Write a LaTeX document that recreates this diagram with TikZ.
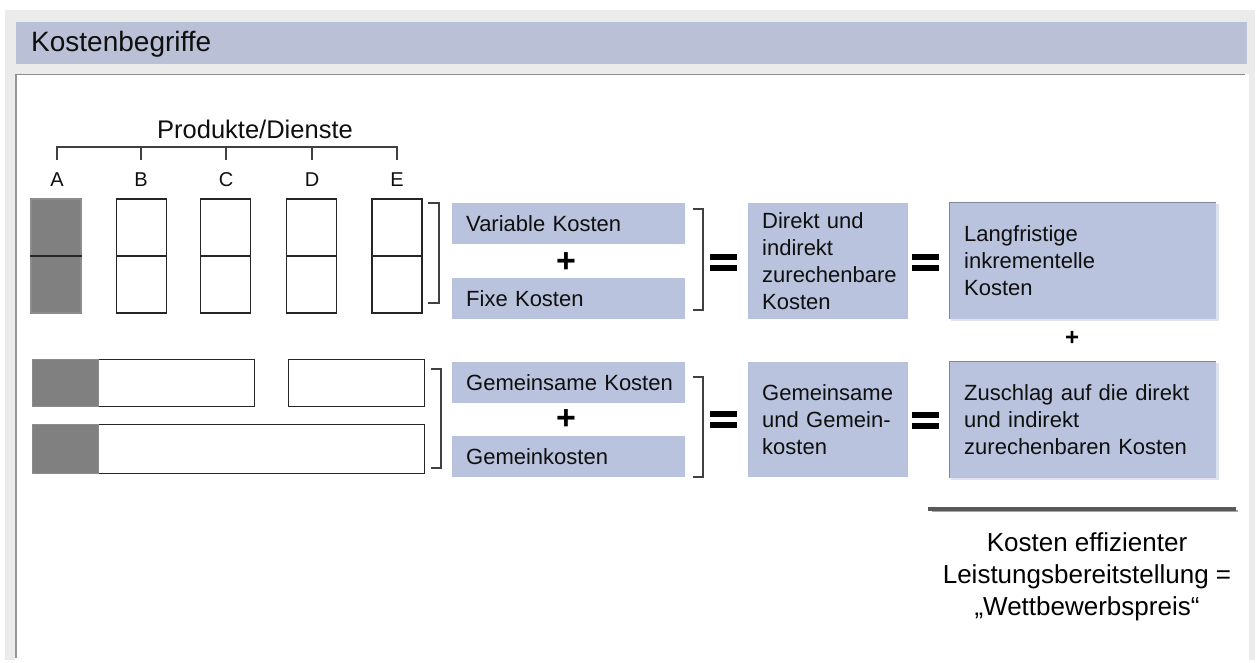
\documentclass[tikz,border=0pt]{standalone}
\usepackage{fontspec}
\usetikzlibrary{calc}
\setmainfont{Liberation Sans}
\definecolor{bggray}{RGB}{235,235,235}
\definecolor{titleblue}{RGB}{186,192,214}
\definecolor{boxblue}{RGB}{185,195,221}
\definecolor{framegray}{RGB}{150,150,150}
\definecolor{boxedge}{RGB}{128,136,152}
\definecolor{shadeblue}{RGB}{222,226,240}
\definecolor{darkfill}{RGB}{128,128,128}
\definecolor{txt}{RGB}{15,15,15}
\tikzset{
  body/.style={font=\fontsize{22}{27}\selectfont, text=txt},
  bluebox/.style={fill=boxblue, draw=none, anchor=north west, inner xsep=14pt, inner ysep=0pt, align=left, body},
  prodbox/.style={draw=black!85, line width=1.3pt, fill=white, minimum width=50pt, minimum height=114pt, inner sep=0pt},
  graybox/.style={prodbox, fill=darkfill, draw=black!45},
  barbox/.style={draw=black!85, line width=1.3pt, fill=white, anchor=north west, inner sep=0pt},
  grayseg/.style={fill=darkfill, draw=black!45, line width=1.3pt, anchor=north west, inner sep=0pt},
  letter/.style={font=\fontsize{20}{22}\selectfont, text=txt},
  brack/.style={draw=black!75, line width=1.3pt},
  plus/.style={font=\bfseries\fontsize{34}{36}\selectfont, inner sep=0pt},
  eqbar/.style={fill=black}
}
\newcommand\eqmark[2]{%
  \fill[eqbar] (#1,#2) rectangle ++(27,6);
  \fill[eqbar] (#1,#2+11) rectangle ++(27,6);}
\begin{document}
\begin{tikzpicture}[x=1pt,y=-1pt]
\useasboundingbox (0,0) rectangle (1258,662);
% frame
\fill[bggray] (5,10) rectangle (1255,660);
\node[fill=titleblue, anchor=north west, minimum width=1231pt, minimum height=42pt, inner sep=0pt] (titlebar) at (16,22) {};
\node[anchor=west, font=\fontsize{28}{32}\selectfont, text=txt, inner sep=0pt] (title) at (31,44) {Kostenbegriffe};
\fill[white] (15,74) rectangle (1249,660);
\draw[framegray, line width=2.2pt] (16,74) -- (16,658);
\draw[black!45, line width=1pt] (15,74.5) -- (1245,74.5);

% product header
\node[font=\fontsize{25.5}{28}\selectfont, text=txt] (prod) at (255,129) {Produkte/Dienste};
\draw[brack] (57,160) -- (57,147) -- (397,147) -- (397,160);
\foreach \x in {141,226,312} \draw[brack] (\x,147) -- (\x,160);
\node[letter] (lA) at (57,180) {A};
\node[letter] (lB) at (141,180) {B};
\node[letter] (lC) at (226,180) {C};
\node[letter] (lD) at (312,180) {D};
\node[letter] (lE) at (397,180) {E};

% product boxes
\node[graybox] (A) at (56,256) {};
\draw[black!85, line width=1.5pt] (A.west) -- (A.east);
\foreach \n/\x in {B/141.5,C/225.5,D/311.5,E/397} {
  \node[prodbox] (\n) at (\x,256) {};
  \draw[black!85, line width=1.3pt] (\n.west) -- (\n.east);
}
\draw[brack] (428,203) -- (439,203) -- (439,303) -- (428,303);

% bars
\node[barbox, minimum width=222pt, minimum height=47pt] (bar1) at (32,359) {};
\node[grayseg, minimum width=66pt, minimum height=47pt] (bar1g) at (32,359) {};
\node[barbox, minimum width=136pt, minimum height=47pt] (bar2) at (288,359) {};
\node[barbox, minimum width=392pt, minimum height=49pt] (bar3) at (32,424) {};
\node[grayseg, minimum width=66pt, minimum height=49pt] (bar3g) at (32,424) {};
\draw[brack] (431,369) -- (441,369) -- (441,468) -- (431,468);

% middle column
\node[bluebox, minimum height=41pt, text width=205pt] (var) at (452,203) {\mbox{Variable Kosten}};
\node[plus] (p1) at (566,263) {+};
\node[bluebox, minimum height=41pt, text width=205pt] (fix) at (452,278) {\mbox{Fixe Kosten}};
\draw[brack] (693,209) -- (703,209) -- (703,310) -- (693,310);
\node[bluebox, minimum height=41pt, text width=205pt] (gem) at (452,362) {\mbox{Gemeinsame Kosten}};
\node[plus] (p2) at (566,420) {+};
\node[bluebox, minimum height=41pt, text width=205pt] (gk) at (452,436) {\mbox{Gemeinkosten}};
\draw[brack] (693,377) -- (703,377) -- (703,477) -- (693,477);

\eqmark{710}{254}
\eqmark{710}{411}

\node[bluebox, minimum height=116pt, inner xsep=14pt, text width=132pt] (dir) at (748,203) {Direkt und\\indirekt\\\mbox{zurechenbare}\\Kosten};
\node[bluebox, minimum height=115pt, inner xsep=14pt, text width=132pt] (gg) at (748,362) {Gemeinsame\\\mbox{und Gemein-}\\kosten};

\eqmark{912}{254}
\eqmark{912}{412}

% right column
\fill[shadeblue] (951,204) rectangle (1219,321);
\node[bluebox, minimum height=117pt, inner xsep=15pt, text width=237pt] (lang) at (949,202) {Langfristige\\inkrementelle\\Kosten};
\draw[boxedge, line width=1pt] (lang.south west) -- (lang.north west) -- (lang.north east);
\node[plus, font=\bfseries\fontsize{24}{26}\selectfont] (p3) at (1072,338) {+};
\fill[shadeblue] (951,363) rectangle (1219,480);
\node[bluebox, minimum height=117pt, inner xsep=15pt, text width=237pt] (zus) at (949,361) {Zuschlag auf die direkt\\und indirekt\\zurechenbaren Kosten};
\draw[boxedge, line width=1pt] (zus.south west) -- (zus.north west) -- (zus.north east);

% result
\coordinate (ls) at (928,509);
\coordinate (le) at (1236,509);
\draw[black!35, line width=2pt] ($(ls)+(4,2)$) -- ($(le)+(2,2)$);
\draw[black!65, line width=3.5pt] (ls) -- (le);
\node[align=center, font=\fontsize{26}{32}\selectfont, text=black] (res) at (1087,577) {Kosten effizienter\\Leistungsbereitstellung =\\„Wettbewerbspreis“};
\end{tikzpicture}
\end{document}
